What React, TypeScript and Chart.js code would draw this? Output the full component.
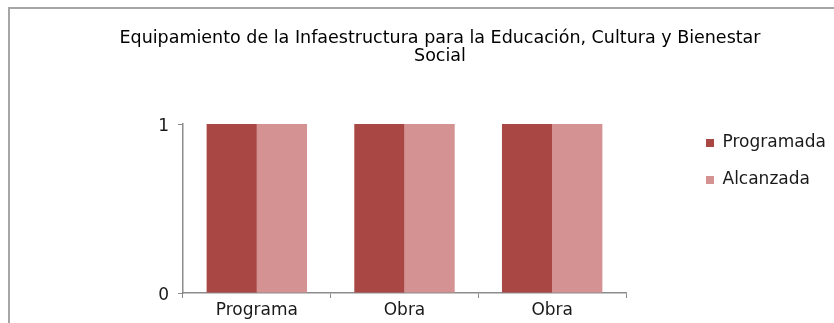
import React, { useEffect, useRef } from "react";
import { Chart, registerables } from "chart.js";

Chart.register(...registerables);

const TITLE_LINES = [
  "Equipamiento de la Infaestructura para la Educación, Cultura y Bienestar",
  "Social",
];
const CATEGORIES = ["Programa", "Obra", "Obra"];
const PROGRAMADA = [1, 1, 1];
const ALCANZADA = [1, 1, 1];
const SERIES_NAMES = ["Programada", "Alcanzada"];
const Y_TICKS = [0, 1];

const FONT_FAMILY = "'DejaVu Sans', sans-serif";
const W = 834;
const H = 323;

const frame = {
  id: "frame",
  beforeDraw(chart: any) {
    const ctx = chart.ctx;
    ctx.save();
    ctx.fillStyle = "#ffffff";
    ctx.fillRect(0, 0, W, H);
    ctx.strokeStyle = "#a6a6a6";
    ctx.lineWidth = 2;
    ctx.beginPath();
    ctx.moveTo(9, H + 2);
    ctx.lineTo(9, 8);
    ctx.lineTo(W + 2, 8);
    ctx.stroke();
    ctx.restore();
  },
};

export default function App() {
  const ref = useRef<HTMLCanvasElement | null>(null);

  useEffect(() => {
    if (!ref.current) return;
    const legendFont = 17;
    const mctx = document.createElement("canvas").getContext("2d")!;
    mctx.font = `${legendFont}px ${FONT_FAMILY}`;
    const tw = Math.max(...SERIES_NAMES.map((s) => mctx.measureText(s).width));
    const legPad = 20;
    const legendWidth = legPad + 8 + legendFont / 2 + tw + 10;
    const legendLeft = 686;
    const padRight = W - legendLeft - legendWidth;
    const plotLeft = 183;
    const plotRight = 626;
    const titleCenter = 440;
    const padLeft = 2 * titleCenter - W + padRight;

    const chart = new Chart(ref.current, {
      type: "bar",
      data: {
        labels: CATEGORIES,
        datasets: [
          {
            label: SERIES_NAMES[0],
            data: PROGRAMADA,
            backgroundColor: "#A94744",
            categoryPercentage: 0.68,
            barPercentage: 1.0,
          },
          {
            label: SERIES_NAMES[1],
            data: ALCANZADA,
            backgroundColor: "#D49292",
            categoryPercentage: 0.68,
            barPercentage: 1.0,
          },
        ],
      },
      options: {
        animation: false,
        responsive: false,
        maintainAspectRatio: false,
        events: [],
        layout: { padding: { left: padLeft, right: padRight, top: 0, bottom: 0 } },
        plugins: {
          title: {
            display: true,
            text: TITLE_LINES,
            color: "#000000",
            font: { family: FONT_FAMILY, size: 17.5, weight: "normal", lineHeight: 1.0 },
            padding: { top: 30, bottom: 59 },
          },
          legend: {
            display: true,
            position: "right",
            align: "center",
            maxWidth: 600,
            labels: {
              boxWidth: 8,
              boxHeight: 8,
              padding: legPad,
              color: "#1a1a1a",
              font: { family: FONT_FAMILY, size: legendFont },
            },
          },
          tooltip: { enabled: false },
        },
        scales: {
          x: {
            grid: {
              display: true,
              drawOnChartArea: false,
              drawTicks: true,
              tickLength: 5,
              color: "#8c8c8c",
            },
            border: { display: true, color: "#8c8c8c", width: 1.5 },
            ticks: {
              color: "#1a1a1a",
              padding: 2,
              font: { family: FONT_FAMILY, size: 17 },
            },
            afterFit(s: any) {
              s.height = 30;
            },
          },
          y: {
            min: 0,
            max: 1,
            afterBuildTicks(s: any) {
              s.ticks = Y_TICKS.map((v) => ({ value: v }));
            },
            grid: {
              display: true,
              drawOnChartArea: false,
              drawTicks: true,
              tickLength: 5,
              color: "#8c8c8c",
            },
            border: { display: true, color: "#8c8c8c", width: 1.5 },
            ticks: {
              color: "#1a1a1a",
              padding: 9,
              labelOffset: 3,
              font: { family: FONT_FAMILY, size: 17 },
            },
            afterFit(s: any) {
              s.width = plotLeft - padLeft;
            },
          },
          spacer: {
            type: "linear",
            position: "right",
            display: true,
            grid: { display: false, drawTicks: false },
            border: { display: false },
            ticks: { display: false },
            afterFit(s: any) {
              s.width = legendLeft - plotRight;
            },
          },
        },
      },
      plugins: [frame],
    } as any);
    return () => chart.destroy();
  }, []);

  return (
    <div style={{ position: "absolute", left: 0, top: 0, width: W, height: H, background: "#fff" }}>
      <canvas ref={ref} width={W} height={H} style={{ display: "block", width: W, height: H }} />
    </div>
  );
}
